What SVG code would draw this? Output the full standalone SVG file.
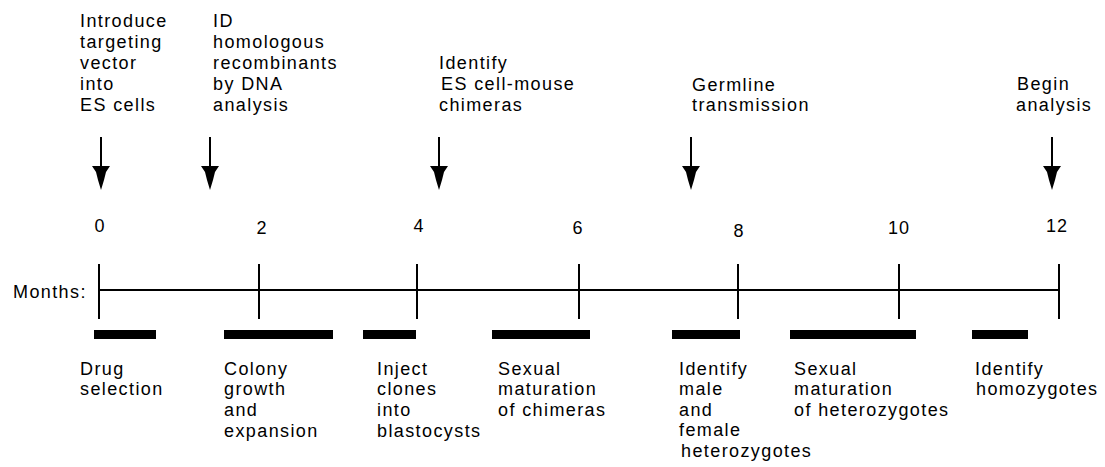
<svg xmlns="http://www.w3.org/2000/svg" width="1105" height="467" viewBox="0 0 1105 467">
<defs>
<style>
text{font-family:"Liberation Sans",Arial,sans-serif;font-size:18px;letter-spacing:1.4px;fill:#000}
.num{text-anchor:middle;letter-spacing:1px}
.ax{stroke:#000;stroke-width:2;fill:none}
.bar{fill:#000}
.ah{fill:#000}
</style>
<path id="head" d="M-9,166 L9,166 L5,172 L3,180 L0,190 L-3,180 L-5,172 Z"/>
</defs>
<rect width="1105" height="467" fill="#fff"/>

<g id="timeline">
<text x="13" y="298">Months:</text>
<line class="ax" x1="98" y1="290" x2="1059" y2="290"/>
<line class="ax" x1="99" y1="264" x2="99" y2="319"/>
<line class="ax" x1="259" y1="264" x2="259" y2="319"/>
<line class="ax" x1="417" y1="264" x2="417" y2="319"/>
<line class="ax" x1="579" y1="264" x2="579" y2="319"/>
<line class="ax" x1="738" y1="264" x2="738" y2="319"/>
<line class="ax" x1="899" y1="264" x2="899" y2="319"/>
<line class="ax" x1="1059" y1="264" x2="1059" y2="319"/>
<text class="num" x="100" y="232">0</text>
<text class="num" x="262" y="234">2</text>
<text class="num" x="419" y="232">4</text>
<text class="num" x="578" y="234">6</text>
<text class="num" x="739" y="237">8</text>
<text class="num" x="899" y="234">10</text>
<text class="num" x="1057" y="232">12</text>
</g>

<g id="connectors">
<line class="ax" x1="101" y1="137" x2="101" y2="170"/>
<use href="#head" x="101"/>
<line class="ax" x1="210" y1="137" x2="210" y2="170"/>
<use href="#head" x="210"/>
<line class="ax" x1="439" y1="137" x2="439" y2="170"/>
<use href="#head" x="439"/>
<line class="ax" x1="691" y1="137" x2="691" y2="170"/>
<use href="#head" x="691"/>
<line class="ax" x1="1052" y1="137" x2="1052" y2="170"/>
<use href="#head" x="1052"/>
</g>

<g id="event-introduce">
<text x="80" y="27">Introduce</text>
<text x="80" y="48">targeting</text>
<text x="80" y="69">vector</text>
<text x="80" y="90">into</text>
<text x="80" y="111">ES cells</text>
</g>
<g id="event-id">
<text x="213" y="27">ID</text>
<text x="213" y="48">homologous</text>
<text x="213" y="69">recombinants</text>
<text x="213" y="90">by DNA</text>
<text x="213" y="111">analysis</text>
</g>
<g id="event-chimeras">
<text x="439" y="69">Identify</text>
<text x="441" y="90">ES cell-mouse</text>
<text x="439" y="111">chimeras</text>
</g>
<g id="event-germline">
<text x="692" y="91">Germline</text>
<text x="692" y="111">transmission</text>
</g>
<g id="event-begin">
<text x="1017" y="90">Begin</text>
<text x="1016" y="111">analysis</text>
</g>

<g id="phase-drug">
<rect class="bar" x="94" y="330" width="62" height="9"/>
<text x="80" y="375">Drug</text>
<text x="80" y="395">selection</text>
</g>
<g id="phase-colony">
<rect class="bar" x="224" y="330" width="109" height="9"/>
<text x="224" y="375">Colony</text>
<text x="224" y="395">growth</text>
<text x="224" y="416">and</text>
<text x="224" y="437">expansion</text>
</g>
<g id="phase-inject">
<rect class="bar" x="363" y="330" width="53" height="9"/>
<text x="377" y="375">Inject</text>
<text x="377" y="395">clones</text>
<text x="377" y="416">into</text>
<text x="377" y="437">blastocysts</text>
</g>
<g id="phase-sexual-chimeras">
<rect class="bar" x="492" y="330" width="98" height="9"/>
<text x="498" y="375">Sexual</text>
<text x="498" y="395">maturation</text>
<text x="498" y="416">of chimeras</text>
</g>
<g id="phase-identify-hets">
<rect class="bar" x="672" y="330" width="68" height="9"/>
<text x="679" y="375">Identify</text>
<text x="679" y="395">male</text>
<text x="679" y="416">and</text>
<text x="679" y="436">female</text>
<text x="681" y="457">heterozygotes</text>
</g>
<g id="phase-sexual-hets">
<rect class="bar" x="790" y="330" width="126" height="9"/>
<text x="794" y="375">Sexual</text>
<text x="794" y="395">maturation</text>
<text x="794" y="416">of heterozygotes</text>
</g>
<g id="phase-homozygotes">
<rect class="bar" x="972" y="330" width="56" height="9"/>
<text x="975" y="375">Identify</text>
<text x="976" y="395">homozygotes</text>
</g>
</svg>
